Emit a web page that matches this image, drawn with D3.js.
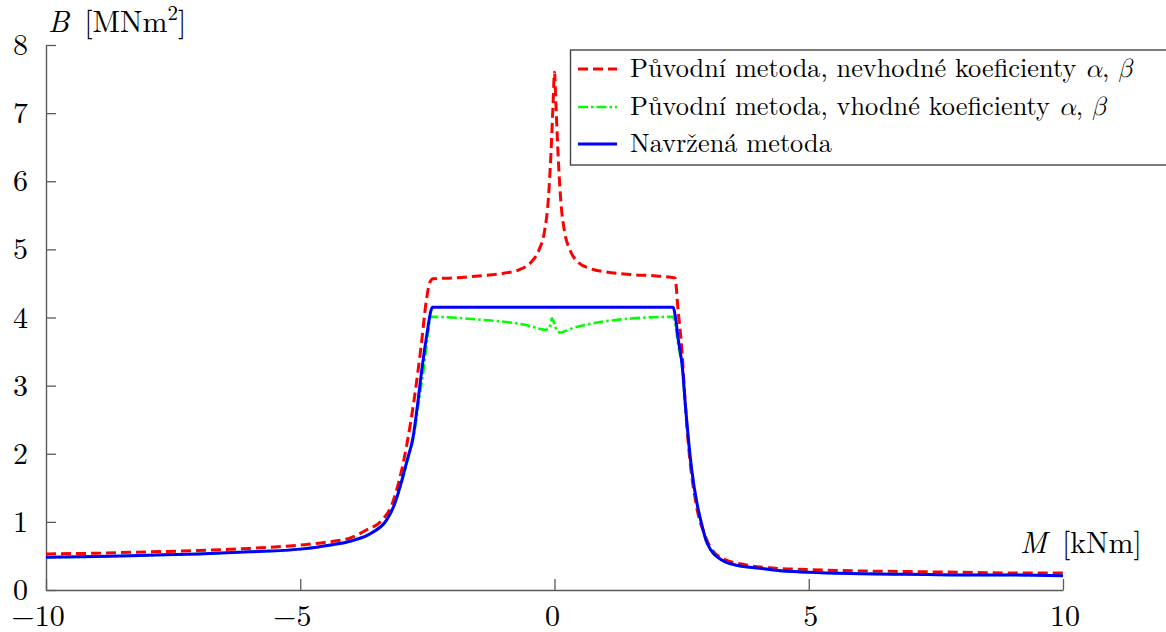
<!DOCTYPE html>
<html>
<head>
<meta charset="utf-8">
<script src="https://cdn.jsdelivr.net/npm/d3@7"></script>
<style>
  html, body { margin: 0; padding: 0; background: #fff; }
  svg { display: block; }
</style>
</head>
<body>
<svg id="chart" width="1166" height="632"></svg>
<script>
// Bending stiffness B [MNm^2] against bending moment M [kNm]

// Original method, unsuitable coefficients alpha, beta
const mRed = [-10, -9, -8, -7, -6, -5, -4.5, -4, -3.7, -3.4, -3.2, -3.05, -2.9, -2.75, -2.62, -2.52, -2.45, -2.39,
  -2.0, -1.5, -1.0, -0.7, -0.45, -0.3, -0.2, -0.12, -0.07, -0.03, 0.0, 0.03, 0.07, 0.12, 0.2, 0.3, 0.45, 0.7,
  1.0, 1.5, 2.0, 2.37, 2.43, 2.51, 2.57, 2.65, 2.78, 2.97, 3.26, 3.75, 4.34, 5, 6, 7, 8, 9, 10];
const bRed = [0.53, 0.54, 0.56, 0.58, 0.61, 0.66, 0.70, 0.77, 0.88, 1.02, 1.25, 1.62, 2.15, 2.85, 3.6, 4.25, 4.52, 4.57,
  4.58, 4.61, 4.65, 4.70, 4.82, 5.0, 5.25, 5.75, 6.4, 7.1, 7.6, 7.1, 6.4, 5.75, 5.25, 5.0, 4.82, 4.72,
  4.67, 4.63, 4.61, 4.58, 4.11, 3.48, 2.75, 2.0, 1.28, 0.78, 0.48, 0.37, 0.32, 0.30, 0.28, 0.27, 0.26, 0.25, 0.25];

// Original method, suitable coefficients alpha, beta
const mGreen = [-10, -9, -8, -7, -6, -5, -4.4, -4, -3.59, -3.3, -3.15, -3.03, -2.89, -2.77, -2.66, -2.58, -2.49, -2.44,
  -1.5, -0.5, -0.19, -0.1, -0.05, 0.0, 0.05, 0.12, 0.3, 0.6, 1.16, 2.33,
  2.38, 2.43, 2.52, 2.57, 2.70, 2.80, 2.90, 3.0, 3.29, 3.6, 4.04, 4.34, 5, 6, 7, 8, 9, 10];
const bGreen = [0.48, 0.49, 0.51, 0.53, 0.56, 0.60, 0.66, 0.72, 0.84, 1.03, 1.25, 1.51, 1.9, 2.25, 2.8, 3.2, 3.75, 4.01,
  3.97, 3.88, 3.82, 3.84, 3.99, 3.90, 3.80, 3.78, 3.83, 3.89, 3.96, 4.01,
  3.88, 3.62, 3.2, 2.72, 1.74, 1.27, 0.95, 0.69, 0.44, 0.36, 0.32, 0.29, 0.26, 0.24, 0.23, 0.22, 0.22, 0.21];

// Proposed method
const mBlue = [-10, -9, -8, -7, -6, -5, -4.4, -4, -3.59, -3.3, -3.15, -3.04, -2.9, -2.78, -2.68, -2.61, -2.5, -2.43, -2.40,
  2.33, 2.38, 2.43, 2.52, 2.57, 2.70, 2.80, 2.90, 3.0, 3.29, 3.6, 4.04, 4.34, 5, 6, 7, 8, 9, 10];
const bBlue = [0.48, 0.49, 0.51, 0.53, 0.56, 0.60, 0.66, 0.72, 0.84, 1.03, 1.25, 1.51, 1.9, 2.25, 2.8, 3.23, 3.8, 4.1, 4.15,
  4.15, 4.0, 3.7, 3.23, 2.75, 1.76, 1.28, 0.95, 0.69, 0.44, 0.36, 0.32, 0.29, 0.26, 0.24, 0.23, 0.22, 0.22, 0.21];

const xTicks = [-10, -5, 0, 5, 10];
const yTicks = [0, 1, 2, 3, 4, 5, 6, 7, 8];

const legendLabels = [
  ["Původní metoda, nevhodné koeficienty ", true],
  ["Původní metoda, vhodné koeficienty ", true],
  ["Navržená metoda", false]
];

const FONT = '"Latin Modern Roman", "Liberation Serif", serif';
const GREEK = '"Latin Modern Math", "Liberation Serif", serif';
const svg = d3.select("#chart");
const x = d3.scaleLinear().domain([-10, 10]).range([46, 1063]);
const y = d3.scaleLinear().domain([0, 8]).range([590, 45]);
const axisColor = "#5a5a5a";

function txt(parent) {
  return parent.append("text").style("font-family", FONT).attr("fill", "#000");
}

// Axes
const gx = svg.append("g").attr("transform", `translate(0,${y(0)})`)
  .call(d3.axisBottom(x).tickValues(xTicks).tickSize(-11).tickSizeOuter(0).tickFormat(() => ""));
const gy = svg.append("g").attr("transform", `translate(${x(-10)},0)`)
  .call(d3.axisLeft(y).tickValues(yTicks).tickSize(-10).tickSizeOuter(0).tickFormat(() => ""));
[gx, gy].forEach(g => {
  g.select(".domain").attr("stroke", axisColor).attr("stroke-width", 1.4);
  g.selectAll(".tick line").attr("stroke", axisColor).attr("stroke-width", 1.3);
});

// Tick labels
const fmt = v => (v < 0 ? "\u2212" + Math.abs(v) : String(v));
const gxl = svg.append("g");
xTicks.forEach(d => {
  txt(gxl).attr("x", x(d) + (d < 0 ? -8 : d === 0 ? -2 : 2)).attr("y", 626)
    .attr("text-anchor", "middle").attr("font-size", 30).text(fmt(d));
});
const gyl = svg.append("g");
yTicks.forEach(d => {
  txt(gyl).attr("x", 28).attr("y", y(d) + 10)
    .attr("text-anchor", "end").attr("font-size", 30).text(fmt(d));
});

// Axis titles
const yt = txt(svg).attr("x", 48).attr("y", 32).attr("font-size", 30);
yt.append("tspan").attr("font-style", "italic").text("B");
yt.append("tspan").text("\u2002[MNm");
yt.append("tspan").attr("font-size", 21).attr("dy", -12).text("2");
yt.append("tspan").attr("dy", 12).text("]");

const xt = txt(svg).attr("x", 1020).attr("y", 553).attr("font-size", 30);
xt.append("tspan").attr("font-style", "italic").text("M");
xt.append("tspan").text("\u2002[kNm]");

// Curves
const series = [
  { m: mRed, b: bRed, color: "#ff0000", width: 3, dash: "10,5" },
  { m: mGreen, b: bGreen, color: "#00ff00", width: 2.6, dash: "10,3,2.5,3" },
  { m: mBlue, b: bBlue, color: "#0000ff", width: 3, dash: null }
];
const line = d3.line().x(d => x(d[0])).y(d => y(d[1])).curve(d3.curveMonotoneX);
series.forEach(s => {
  svg.append("path")
    .datum(s.m.map((v, i) => [v, s.b[i]]))
    .attr("fill", "none")
    .attr("stroke", s.color)
    .attr("stroke-width", s.width)
    .attr("stroke-linejoin", "round")
    .attr("stroke-dasharray", s.dash)
    .attr("d", line);
});

// Legend
const lg = svg.append("g");
lg.append("rect").attr("x", 570.5).attr("y", 50).attr("width", 640).attr("height", 115)
  .attr("fill", "#fff").attr("stroke", "#444").attr("stroke-width", 1.4);
const rowY = [69, 107, 144];
const texts = [];
series.forEach((s, i) => {
  lg.append("line").attr("x1", 578).attr("x2", 617).attr("y1", rowY[i]).attr("y2", rowY[i])
    .attr("stroke", s.color).attr("stroke-width", s.width).attr("stroke-dasharray", s.dash);
  const t = txt(lg).attr("x", 630).attr("y", rowY[i] + 8).attr("font-size", 20);
  t.append("tspan").text(legendLabels[i][0]);
  if (legendLabels[i][1]) {
    t.append("tspan").attr("font-style", "italic").style("font-family", GREEK).text("α");
    t.append("tspan").text(", ");
    t.append("tspan").attr("font-style", "italic").style("font-family", GREEK).text("β");
  }
  texts.push(t);
});
// size the legend font so the first entry spans its box row
const w0 = texts[0].node().getComputedTextLength();
const legendSize = 20 * 503 / w0;
texts.forEach(t => t.attr("font-size", legendSize));
</script>
</body>
</html>
